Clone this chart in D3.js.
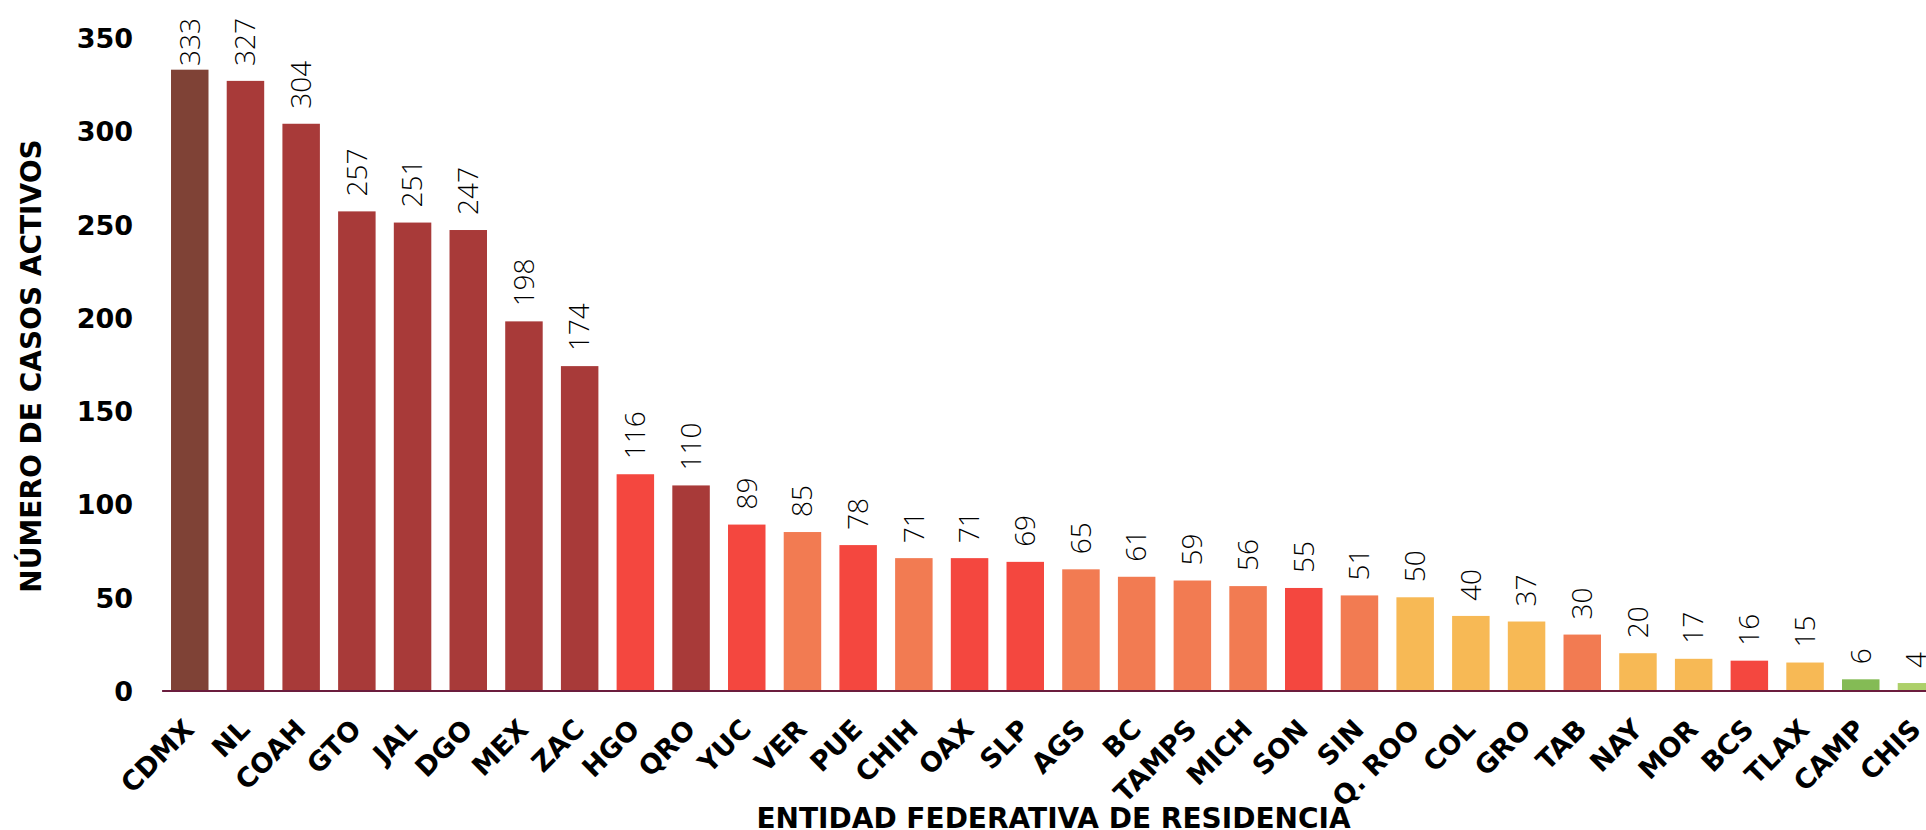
<!DOCTYPE html>
<html>
<head>
<meta charset="utf-8">
<script src="https://cdn.jsdelivr.net/npm/d3@7"></script>
<style>
  html, body { margin: 0; padding: 0; background: #fff; }
  svg { display: block; }
</style>
</head>
<body>
<div id="chart"></div>
<script>
const entidades = ['CDMX', 'NL', 'COAH', 'GTO', 'JAL', 'DGO', 'MEX', 'ZAC', 'HGO', 'QRO', 'YUC', 'VER', 'PUE', 'CHIH', 'OAX', 'SLP',
  'AGS', 'BC', 'TAMPS', 'MICH', 'SON', 'SIN', 'Q. ROO', 'COL', 'GRO', 'TAB', 'NAY', 'MOR', 'BCS', 'TLAX', 'CAMP', 'CHIS'];
const casosActivos = [333, 327, 304, 257, 251, 247, 198, 174, 116, 110, 89, 85, 78, 71, 71, 69,
  65, 61, 59, 56, 55, 51, 50, 40, 37, 30, 20, 17, 16, 15, 6, 4];
const nivel = ['max', 'muyalto', 'muyalto', 'muyalto', 'muyalto', 'muyalto', 'muyalto', 'muyalto', 'alto', 'muyalto', 'alto', 'medio', 'alto', 'medio', 'alto', 'alto',
  'medio', 'medio', 'medio', 'medio', 'alto', 'medio', 'bajo', 'bajo', 'bajo', 'medio', 'bajo', 'bajo', 'alto', 'bajo', 'muybajo', 'minimo'];
const yTicks = [0, 50, 100, 150, 200, 250, 300, 350];

const COLORS = { max: '#7f4236', muyalto: '#a83a39', alto: '#f4473f', medio: '#f27b52', bajo: '#f7b955', muybajo: '#84bb55', minimo: '#add06a' };

const W = 1926, H = 830;
const bold = "'DejaVu Sans', sans-serif";
const light = "'Open Sans', 'Noto Sans', sans-serif";

const svg = d3.select('#chart').append('svg').attr('width', W).attr('height', H);

const x0 = 161.6, step = 55.7, pIn = 0.327, pOut = 0.169;
const x = d3.scaleBand().domain(entidades)
  .range([x0, x0 + step * (entidades.length - pIn + 2 * pOut)])
  .paddingInner(pIn).paddingOuter(pOut);
const y = d3.scaleLinear().domain([0, 350]).range([690.5, 38]);

const data = entidades.map((e, i) => ({ e, v: casosActivos[i], n: nivel[i] }));

// barras
svg.selectAll('.bar').data(data).enter().append('rect')
  .attr('x', d => x(d.e)).attr('y', d => y(d.v))
  .attr('width', x.bandwidth()).attr('height', d => y(0) - y(d.v))
  .attr('fill', d => COLORS[d.n]);

// eje x
const gx = svg.append('g').attr('transform', `translate(0,${y(0)})`)
  .call(d3.axisBottom(x).tickSize(0).tickSizeOuter(0));
gx.select('.domain').attr('stroke', '#6b1d3e').attr('stroke-width', 2.2);
gx.selectAll('text')
  .attr('x', 0).attr('y', 0).attr('dy', 0)
  .attr('text-anchor', 'end')
  .attr('transform', 'translate(6,40.5) rotate(-45)')
  .style('font-family', bold).style('font-weight', 'bold').style('font-size', '27px').style('fill', '#000');

// eje y
const gy = svg.append('g').attr('transform', `translate(${x0},0)`)
  .call(d3.axisLeft(y).tickValues(yTicks).tickSize(0).tickPadding(28.6));
gy.select('.domain').remove();
gy.selectAll('text')
  .attr('dy', '0.36em')
  .style('font-family', bold).style('font-weight', 'bold').style('font-size', '27px').style('fill', '#000');

// etiquetas de valor
const labels = svg.selectAll('.val').data(data).enter().append('text')
  .attr('text-anchor', 'start').attr('dy', '0.35em')
  .style('font-family', light).style('font-weight', 300).style('font-size', '28px').style('fill', '#000')
  .text(d => d.v);
labels.each(function (d) {
  const len = this.getComputedTextLength();
  const base = Math.max(y(d.v) - 15, 18 + len);
  d3.select(this).attr('transform', `translate(${x(d.e) + x.bandwidth() / 2},${base}) rotate(-90)`);
});

// títulos
svg.append('text')
  .attr('transform', 'translate(31,366) rotate(-90)')
  .attr('text-anchor', 'middle').attr('dy', '0.36em')
  .style('font-family', bold).style('font-weight', 'bold').style('font-size', '28px')
  .text('NÚMERO DE CASOS ACTIVOS');

svg.append('text')
  .attr('x', 1053.5).attr('y', 828)
  .attr('text-anchor', 'middle')
  .style('font-family', bold).style('font-weight', 'bold').style('font-size', '28px')
  .text('ENTIDAD FEDERATIVA DE RESIDENCIA');
</script>
</body>
</html>
